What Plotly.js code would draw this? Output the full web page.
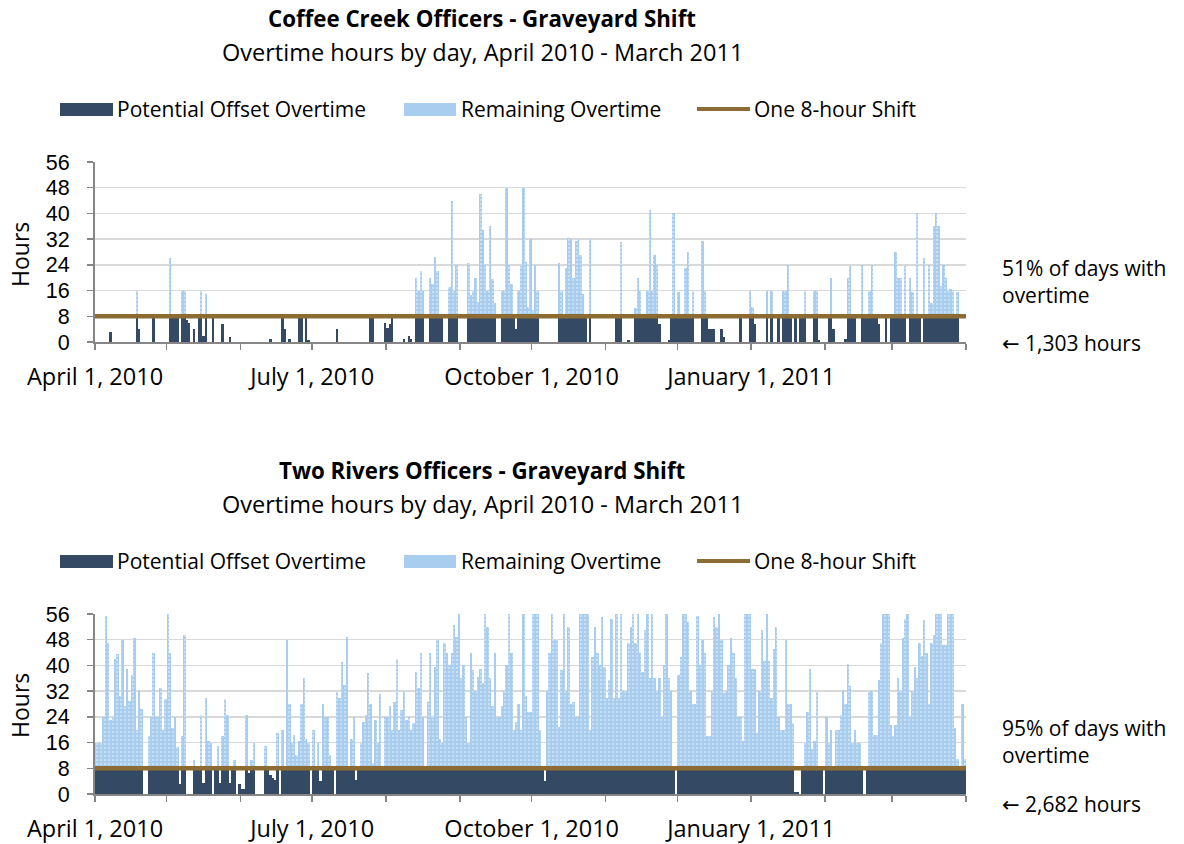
<!DOCTYPE html>
<html>
<head>
<meta charset="utf-8">
<script src="https://cdn.plot.ly/plotly-3.0.1.min.js"></script>
<style>
  body { margin: 0; background: #fff; }
  #chart { width: 1184px; height: 844px; }
</style>
</head>
<body>
<div id="chart"></div>
<script>
// Daily overtime hours, April 1 2010 .. March 31 2011 (one row per month)
const coffeeCreekHours = [
  0,0,0,0,0,0,3,0,0,0, 0,0,0,0,0,0,0,16,4,0, 0,0,0,0,8,0,0,0,0,0,                 // Apr
  0,26,8,8,8,0,16,16,7,6, 0,4,0,8,16,2,15,0,0,8, 0,0,0,5.5,0,0,1.5,0,0,0, 0,       // May
  0,0,0,0,0,0,0,0,0,0, 0,0,1,0,0,0,0,8,4,0, 1,0,0,0,8,8,0,8,0.5,0,                 // Jun
  0,0,0,0,0,0,0,0,0,0, 4,0,0,0,0,0,0,0,0,0, 0,0,0,0,8,8,0,0,0,0, 6,                // Jul
  4.5,5.5,8,0,0,0,0,1,0,2, 1,0,20,16,22,16,0,0,20,18, 26.5,22,8,8,0,0,17,44,16,24, 0, // Aug
  0,0,0,24.5,14.5,16,20,12.5,46,35, 24,16,36,19.5,12,0,0,16,16,48, 24,18,8,4,16,23.5,48,25,11,32, // Sep
  10,24,16,0,0,0,0,0,0,0, 0,24.5,16,8,23,32.5,32,20,31.5,32, 27,15,8,0,32,0,0,0,0,0, 0, // Oct
  0,0,0,0,8,8,31,0,0,0.5, 0,0,10.5,20,16,8,8,16,41,16, 27,24,5.5,0,0,0,0.7,8,40,8,  // Nov
  15.5,8,8,23,28,8,16,0,0,0, 31.5,16,8,4,4,4,0,0,4,1.5, 0,0,0,0,0,0,8,0,0,0, 16,   // Dec
  11,5.5,0,0,0,0,16,0,16,0, 0,8,0,16,16,24,8,0,8,0, 8,8,16,0,0,0,16,16,0.5,0, 0,   // Jan
  0,8,20,4,0,0,0,0,1,20, 23.5,8,8,0,0,24,8,8,16,24, 8,8,5.5,0,0,8,0,8,             // Feb
  8,28,20,20,8,23.5,0,20,15.5,8, 40,8,0,26,8,24,12,36,40,36, 17.5,24,20,16,16.5,16,8,15.5,0,0, 0 // Mar
];

const twoRiversHours = [
  16,16,16,24,55.5,47,23,23.5,42,43.5, 30.5,48,27.5,39,29,37,48.5,20,32,26.5, 0,0,18,24,44,24,24,33,20,29.5, // Apr
  56,44,20.5,24,14.5,3,18,49.5,0,0, 0,10.5,8,8,24.5,3.5,30,16.5,16,0, 8,15,3.5,18,29.5,24.5,3.5,8,10.5,0, 3, // May
  1.5,1.5,24.5,6.5,10.5,16,0,0,0,0, 15,8,6,5,4.5,19,0,20,8,48, 28,16,18.5,12,16.5,28,36,17,16,0,       // Jun
  20,8,16,4,28,24,24,12,8,0, 32,30,41,34,49,8,17,24,4.5,8, 16,22.5,24.5,37.5,28,9.5,23,16,31,8, 24,    // Jul
  24,27.5,20,28.5,42,20,26,32,23,24, 20,22,38,33,44,24,8,28.5,44,23.5, 39.5,48,17,16,47,44,40,44,52.5,49, 56, // Aug
  36,40,24,16,44,38.5,32,36.5,39,34.5, 56,52,36,27.5,44,23.5,24,27.5,32,40, 56,44,20,22.5,28,20,56,30.5,25.5,25.5, // Sep
  56,56,56,20,8,4,32,44,56,48, 48,21,38.5,56,32,52,28,28.5,24,24, 56,56,56,56,20,42.5,52,44,40,55, 39.5, // Oct
  30,35.5,54.5,30,56,30,56,32,32,47, 52,56,47,56,44,38,51,56,36,56, 36,32,36,24,40,56,36,32,8,0,       // Nov
  37,42.5,56,56,53.5,32,28,28,55.5,40, 48,44,18,18,32,55,52,56,48,31.5, 32,40,48.5,44,36,24,24,16.5,56,56, 56, // Dec
  39,39,19,32,51,41.5,56,41.5,30,45, 52,24,20,20,48,28,28,22,0.5,0.5, 0,8,16,25.5,39,14,16.5,32,8,8, 0, // Jan
  24,16,20,8,20,20,24.5,32.5,28,40.5, 33.5,16,20,16,16,8,0,8,32,32, 18.5,18.5,35.5,47,56,56,56,21.5,    // Feb
  18,21.5,36,32,48.5,54.5,56,24,32,39.5, 36,47,43,54,44,28,47,49.5,56,56, 56,46.5,46.5,56,56,56,20.5,11,8,28, 11 // Mar
];

const monthTicks = ['2010-04-01','2010-05-01','2010-06-01','2010-07-01','2010-08-01','2010-09-01',
  '2010-10-01','2010-11-01','2010-12-01','2011-01-01','2011-02-01','2011-03-01','2011-04-01'];
const monthLabels = ['April 1, 2010','','','July 1, 2010','','','October 1, 2010','','','January 1, 2011','','',''];

const SHIFT = 8;
const DARK = '#344a64';
const LIGHT = '#a9cdee';
const BROWN = '#8c6c32';
const FONT = '"Open Sans", "Noto Sans", sans-serif';
const ARROW = '<span style="font-family:\'DejaVu Sans\'">\u2190</span>';

// one bar per day, centred at noon
const dayStart = Date.UTC(2010, 3, 1);
const days = coffeeCreekHours.map((_, i) =>
  new Date(dayStart + i * 86400000 + 43200000).toISOString().slice(0, 19).replace('T', ' '));

function chartTraces(hours, xa, ya) {
  return [
    {
      type: 'bar', x: days, y: hours.map(v => Math.min(v, SHIFT)),
      xaxis: xa, yaxis: ya, name: 'Potential Offset Overtime',
      marker: { color: DARK, line: { width: 0 } }, showlegend: false
    },
    {
      type: 'bar', x: days, y: hours.map(v => Math.max(v - SHIFT, 0)),
      xaxis: xa, yaxis: ya, name: 'Remaining Overtime',
      marker: { color: LIGHT, line: { width: 0 },
        pattern: { shape: '.', fgcolor: '#d6e8f8', bgcolor: LIGHT, size: 4, solidity: 0.2 } },
      showlegend: false
    },
    {
      type: 'scatter', mode: 'lines', x: ['2010-04-01', '2011-04-01'], y: [SHIFT, SHIFT],
      xaxis: xa, yaxis: ya, name: 'One 8-hour Shift',
      line: { color: BROWN, width: 4.5 }, showlegend: false, cliponaxis: false
    }
  ];
}

const W = 1184, H = 844;
const px = x => x / W;
const py = y => 1 - y / H;

function xAxis(anchor) {
  return {
    domain: [px(95), px(966)], anchor: anchor, type: 'date',
    range: ['2010-04-01', '2011-04-01'], tickvals: monthTicks, ticktext: monthLabels,
    ticks: 'outside', ticklen: 6, tickcolor: '#868686', tickwidth: 1.5, ticklabelstandoff: 7,
    showline: true, linecolor: '#868686', linewidth: 2, showgrid: false, zeroline: false,
    tickfont: { size: 23.5, color: '#000' }, fixedrange: true
  };
}
function yAxis(anchor, top, bottom) {
  return {
    domain: [py(bottom), py(top)], anchor: anchor, range: [0, 56], tick0: 0, dtick: 8,
    ticks: 'outside', ticklen: 6, tickcolor: '#868686', tickwidth: 1.5, ticklabelstandoff: 13,
    showline: true, linecolor: '#868686', linewidth: 2,
    showgrid: true, gridcolor: '#d9d9d9', gridwidth: 1.5, zeroline: false,
    tickfont: { family: '"Liberation Sans", Arial, sans-serif', size: 21.5, color: '#000' },
    fixedrange: true
  };
}

function text(str, x, y, size, opts) {
  return Object.assign({
    xref: 'paper', yref: 'paper', x: px(x), y: py(y), text: str, showarrow: false,
    xanchor: 'center', yanchor: 'middle', font: { size: size, color: '#000' }
  }, opts || {});
}

function legendBits(y) {
  const shapes = [
    { type: 'rect', xref: 'paper', yref: 'paper', x0: px(60), x1: px(113), y0: py(y + 7), y1: py(y - 6),
      fillcolor: DARK, line: { width: 0 } },
    { type: 'rect', xref: 'paper', yref: 'paper', x0: px(404), x1: px(456), y0: py(y + 7), y1: py(y - 6),
      fillcolor: LIGHT, line: { width: 0 } },
    { type: 'line', xref: 'paper', yref: 'paper', x0: px(697), x1: px(750), y0: py(y), y1: py(y),
      line: { color: BROWN, width: 4 } }
  ];
  const notes = [
    text('Potential Offset Overtime', 115, y, 21, { xanchor: 'left' }),
    text('Remaining Overtime', 459, y, 21, { xanchor: 'left' }),
    text('One 8-hour Shift', 752, y, 21, { xanchor: 'left' })
  ];
  return { shapes, notes };
}

const leg1 = legendBits(109);
const leg2 = legendBits(561);

const annotations = [
  text('<b>Coffee Creek Officers - Graveyard Shift</b>', 482, 19, 22.3),
  text('Overtime hours by day, April 2010 - March 2011', 482, 52, 23.5),
  text('<b>Two Rivers Officers - Graveyard Shift</b>', 482, 471, 22.3),
  text('Overtime hours by day, April 2010 - March 2011', 482, 504, 23.5),
  text('Hours', 20, 255, 23, { textangle: -90 }),
  text('Hours', 20, 706, 23, { textangle: -90 }),
  text('51% of days with<br>overtime', 1000, 281, 21, { xanchor: 'left', align: 'left' }),
  text(ARROW + ' 1,303 hours', 1000, 343, 21, { xanchor: 'left' }),
  text('95% of days with<br>overtime', 1000, 741, 21, { xanchor: 'left', align: 'left' }),
  text(ARROW + ' 2,682 hours', 1000, 804, 21, { xanchor: 'left' })
].concat(leg1.notes, leg2.notes);

const layout = {
  width: W, height: H,
  margin: { l: 0, r: 0, t: 0, b: 0 },
  paper_bgcolor: '#fff', plot_bgcolor: '#fff',
  font: { family: FONT, color: '#000' },
  barmode: 'stack', bargap: 0,
  showlegend: false,
  xaxis: xAxis('y'),
  yaxis: yAxis('x', 162, 342),
  xaxis2: xAxis('y2'),
  yaxis2: yAxis('x2', 614, 794),
  shapes: leg1.shapes.concat(leg2.shapes),
  annotations: annotations
};

const traces = chartTraces(coffeeCreekHours, 'x', 'y').concat(chartTraces(twoRiversHours, 'x2', 'y2'));

Plotly.newPlot('chart', traces, layout, { displayModeBar: false, staticPlot: true });
</script>
</body>
</html>
